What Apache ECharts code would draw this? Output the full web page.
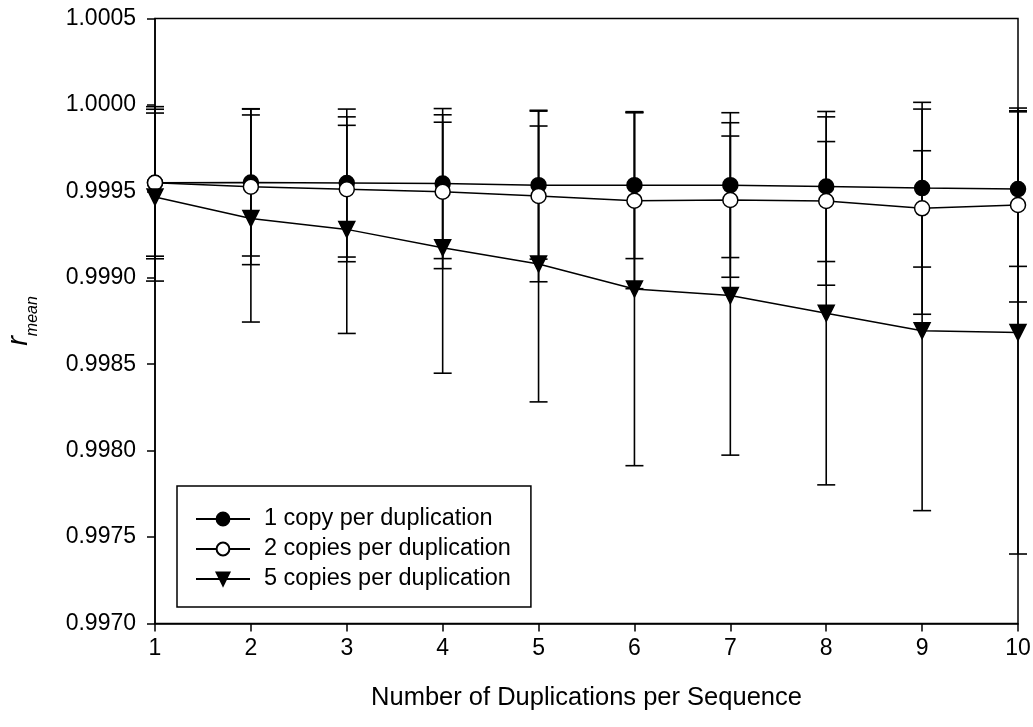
<!DOCTYPE html>
<html>
<head>
<meta charset="utf-8">
<script src="https://cdn.jsdelivr.net/npm/echarts@6/dist/echarts.min.js"></script>
<style>
  html, body { margin: 0; padding: 0; background: #fff; }
  #main { width: 1033px; height: 727px; }
</style>
</head>
<body>
<div id="main"></div>
<script>
// duplications per sequence (x)
var dups = [1, 2, 3, 4, 5, 6, 7, 8, 9, 10];

// r mean per series
var oneCopy = [0.99955, 0.999551, 0.999548, 0.999545, 0.999536, 0.999536, 0.999536, 0.999528, 0.999519, 0.999513];
var twoCopies = [0.99955, 0.999527, 0.999512, 0.999498, 0.999473, 0.999446, 0.99945, 0.999444, 0.999402, 0.999421];
var fiveCopies = [0.999467, 0.999343, 0.99928, 0.999174, 0.99908, 0.998935, 0.998897, 0.998795, 0.998694, 0.998684];

// error bar half lengths
var oneCopyErr = [0.000425, 0.000425, 0.000428, 0.000434, 0.000428, 0.000425, 0.000419, 0.000434, 0.000457, 0.000447];
var twoCopiesErr = [0.00044, 0.000451, 0.000419, 0.000445, 0.000496, 0.000509, 0.000447, 0.000487, 0.000613, 0.000561];
var fiveCopiesErr = [0.000486, 0.000599, 0.000602, 0.000726, 0.000798, 0.001022, 0.000923, 0.000993, 0.001041, 0.001282];

var seriesNames = ['1 copy per duplication', '2 copies per duplication', '5 copies per duplication'];

var myChart = echarts.init(document.getElementById('main'));

function pairs(vals) {
  return dups.map(function (d, i) { return [d, vals[i]]; });
}
function errData(vals, err) {
  return dups.map(function (d, i) { return [d, vals[i] - err[i], vals[i] + err[i]]; });
}

function renderBar(params, api) {
  var x = api.value(0);
  var lo = api.coord([x, api.value(1)]);
  var hi = api.coord([x, api.value(2)]);
  var half = 9;
  var st = { stroke: '#000', lineWidth: 1.6, fill: null };
  return {
    type: 'group',
    children: [
      { type: 'line', shape: { x1: lo[0], y1: lo[1], x2: hi[0], y2: hi[1] }, style: st },
      { type: 'line', shape: { x1: lo[0] - half, y1: lo[1], x2: lo[0] + half, y2: lo[1] }, style: st },
      { type: 'line', shape: { x1: hi[0] - half, y1: hi[1], x2: hi[0] + half, y2: hi[1] }, style: st }
    ]
  };
}

function errSeries(vals, err) {
  return {
    type: 'custom',
    renderItem: renderBar,
    data: errData(vals, err),
    encode: { x: 0, y: [1, 2] },
    z: 1,
    silent: true
  };
}

function lineSeries(name, vals, symbol, fill, rot, size) {
  return {
    name: name,
    type: 'line',
    data: pairs(vals),
    symbol: symbol,
    symbolSize: size,
    symbolRotate: rot,
    showAllSymbol: true,
    lineStyle: { color: '#000', width: 1.5 },
    itemStyle: { color: fill, borderColor: '#000', borderWidth: 1.5 },
    z: 3
  };
}

var option = {
  animation: false,
  backgroundColor: '#fff',
  textStyle: { fontFamily: 'Liberation Sans, Arial, sans-serif', color: '#000' },
  grid: {
    left: 155, right: 15, top: 18.5, bottom: 103.5,
    outerBoundsMode: 'none',
    containLabel: false,
    show: true, borderColor: '#000', borderWidth: 1.5
  },
  legend: {
    data: seriesNames,
    orient: 'vertical',
    left: 177,
    top: 486,
    padding: [21, 20, 16, 18],
    itemGap: 6,
    itemWidth: 54,
    itemHeight: 16,
    borderColor: '#000',
    borderWidth: 1.5,
    backgroundColor: '#fff',
    textStyle: { fontSize: 23.5, color: '#000', padding: [0, 0, 0, 9], fontFamily: 'Liberation Sans, Arial, sans-serif' }
  },
  xAxis: {
    type: 'value',
    min: 1,
    max: 10,
    interval: 1,
    name: 'Number of Duplications per Sequence',
    nameLocation: 'middle',
    nameGap: 61,
    nameTextStyle: { fontSize: 25.5, color: '#000' },
    axisLine: { lineStyle: { color: '#000', width: 1.5 } },
    axisTick: { inside: false, length: 8, lineStyle: { color: '#000', width: 1.5 } },
    axisLabel: { fontSize: 23, color: '#000', margin: 14 },
    splitLine: { show: false }
  },
  yAxis: {
    type: 'value',
    min: 0.997,
    max: 1.0005,
    interval: 0.0005,
    name: '{r|r}{s|mean}',
    nameLocation: 'middle',
    nameRotate: 90,
    nameGap: 114,
    nameTextStyle: {
      rich: {
        r: { fontSize: 29, fontStyle: 'italic', color: '#000', verticalAlign: 'bottom', padding: [0, 0, 8, 0] },
        s: { fontSize: 16, fontStyle: 'italic', color: '#000', verticalAlign: 'bottom' }
      }
    },
    axisLine: { lineStyle: { color: '#000', width: 1.5 } },
    axisTick: { inside: false, length: 8, lineStyle: { color: '#000', width: 1.5 } },
    axisLabel: {
      fontSize: 23, color: '#000', margin: 19,
      formatter: function (v) { return v.toFixed(4); }
    },
    splitLine: { show: false }
  },
  series: [
    errSeries(oneCopy, oneCopyErr),
    errSeries(twoCopies, twoCopiesErr),
    errSeries(fiveCopies, fiveCopiesErr),
    lineSeries(seriesNames[0], oneCopy, 'circle', '#000', 0, 15),
    lineSeries(seriesNames[1], twoCopies, 'circle', '#fff', 0, 15),
    lineSeries(seriesNames[2], fiveCopies, 'triangle', '#000', 180, 16)
  ]
};

myChart.setOption(option);
</script>
</body>
</html>
